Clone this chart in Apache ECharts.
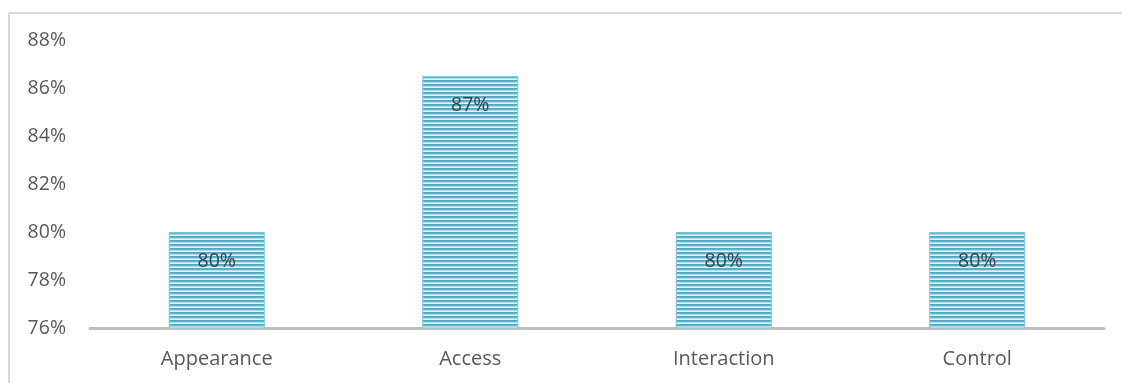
<!DOCTYPE html>
<html>
<head>
<meta charset="utf-8">
<script src="https://cdn.jsdelivr.net/npm/echarts@6/dist/echarts.min.js"></script>
<style>
html,body{margin:0;padding:0;background:#fff;}
#chart{width:1122px;height:383px;}
</style>
</head>
<body>
<div id="chart"></div>
<script>
const categories = ['Appearance', 'Access', 'Interaction', 'Control'];
const values = [80, 86.5, 80, 80];
const labelTexts = ['80%', '87%', '80%', '80%'];
const yTicks = { min: 76, max: 88, interval: 2 };

function stripePattern() {
  const c = document.createElement('canvas');
  c.width = 4; c.height = 4;
  const ctx = c.getContext('2d');
  const rows = ['#48A9C5', '#62B6D0', '#AEDBE8', '#E6F4F8'];
  rows.forEach((col, i) => { ctx.fillStyle = col; ctx.fillRect(0, i, 4, 1); });
  return c;
}

const chart = echarts.init(document.getElementById('chart'), null, { renderer: 'canvas' });
chart.setOption({
  animation: false,
  backgroundColor: '#fff',
  textStyle: { fontFamily: 'Open Sans' },
  grid: { left: 90, right: 18, top: 40, bottom: 55 },
  graphic: [
    { type: 'line', shape: { x1: 9, y1: 13, x2: 1122, y2: 13 }, style: { stroke: '#D9D9D9', lineWidth: 2 } },
    { type: 'line', shape: { x1: 9, y1: 13, x2: 9, y2: 383 }, style: { stroke: '#D9D9D9', lineWidth: 2 } }
  ],
  xAxis: {
    type: 'category',
    data: categories,
    axisLine: { show: true, lineStyle: { color: '#BFBFBF', width: 3 } },
    axisTick: { show: false },
    axisLabel: { color: '#595959', fontSize: 20, margin: 21, fontFamily: 'Open Sans' }
  },
  yAxis: {
    type: 'value',
    min: yTicks.min, max: yTicks.max, interval: yTicks.interval,
    splitLine: { show: false },
    axisLine: { show: false },
    axisTick: { show: false },
    axisLabel: { color: '#595959', fontSize: 19.5, margin: 24, formatter: '{value}%', fontFamily: 'Open Sans' }
  },
  series: [{
    type: 'bar',
    data: values,
    barWidth: 96,
    itemStyle: {
      color: { image: stripePattern(), repeat: 'repeat' },
      borderColor: '#7EC4D8', borderWidth: 1
    },
    label: {
      show: true,
      position: 'insideTop',
      distance: 19,
      color: '#404040',
      fontSize: 19.5,
      fontFamily: 'Open Sans',
      formatter: p => labelTexts[p.dataIndex]
    }
  }]
});
</script>
</body>
</html>
